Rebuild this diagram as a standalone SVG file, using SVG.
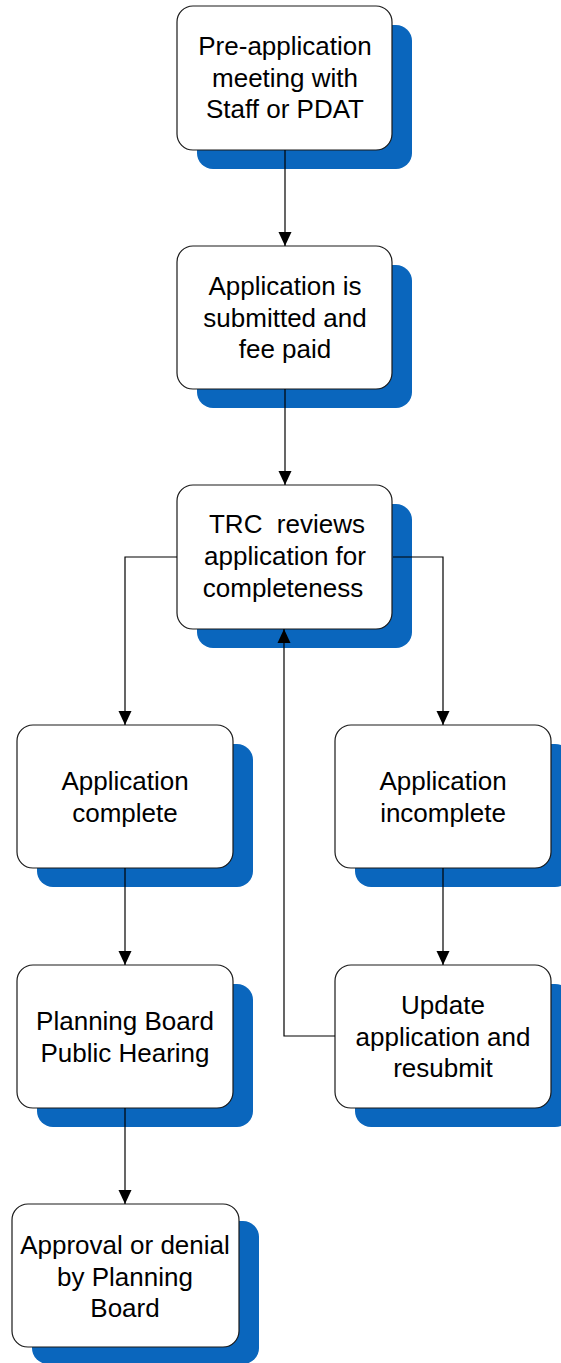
<svg xmlns="http://www.w3.org/2000/svg" width="561" height="1363" viewBox="0 0 561 1363">
<style>
.sh{fill:#0A66BD}
.bx{fill:#fff;stroke:#1a1a1a;stroke-width:1.2}
.t{font-family:"Liberation Sans",Arial,sans-serif;font-size:26px;fill:#000;text-anchor:middle}
.c{fill:none;stroke:#000;stroke-width:1.2}
</style>
<defs>
<marker id="ah" markerUnits="userSpaceOnUse" markerWidth="14" markerHeight="14" viewBox="0 0 14 14" refX="14" refY="7" orient="auto">
<path d="M0,0.5 L14,7 L0,13.5 Z" fill="#000"/>
</marker>
</defs>
<rect width="561" height="1363" fill="#fff"/>
<g id="n1">
<rect class="sh" x="197" y="25" width="215" height="144" rx="16"/>
<rect class="bx" x="177" y="6" width="215" height="144" rx="16"/>
<text class="t" x="285" y="55">Pre-application</text>
<text class="t" x="285" y="87">meeting with</text>
<text class="t" x="285" y="118">Staff or PDAT</text>
</g>
<g id="n2">
<rect class="sh" x="197" y="265" width="215" height="143" rx="16"/>
<rect class="bx" x="177" y="246" width="215" height="143" rx="16"/>
<text class="t" x="285" y="295">Application is</text>
<text class="t" x="285" y="327">submitted and</text>
<text class="t" x="285" y="358">fee paid</text>
</g>
<g id="n3">
<rect class="sh" x="197" y="504" width="215" height="144" rx="16"/>
<rect class="bx" x="177" y="485" width="215" height="144" rx="16"/>
<text class="t" x="287" y="533">TRC&#160; reviews</text>
<text class="t" x="285" y="565">application for</text>
<text class="t" x="283" y="597">completeness</text>
</g>
<g id="n4">
<rect class="sh" x="37" y="744" width="216" height="143" rx="16"/>
<rect class="bx" x="17" y="725" width="216" height="143" rx="16"/>
<text class="t" x="125" y="790">Application</text>
<text class="t" x="125" y="822">complete</text>
</g>
<g id="n5">
<rect class="sh" x="355" y="744" width="216" height="143" rx="16"/>
<rect class="bx" x="335" y="725" width="216" height="143" rx="16"/>
<text class="t" x="443" y="790">Application</text>
<text class="t" x="443" y="822">incomplete</text>
</g>
<g id="n6">
<rect class="sh" x="37" y="984" width="216" height="143" rx="16"/>
<rect class="bx" x="17" y="965" width="216" height="143" rx="16"/>
<text class="t" x="125" y="1030">Planning Board</text>
<text class="t" x="125" y="1062">Public Hearing</text>
</g>
<g id="n7">
<rect class="sh" x="355" y="984" width="216" height="143" rx="16"/>
<rect class="bx" x="335" y="965" width="216" height="143" rx="16"/>
<text class="t" x="443" y="1014">Update</text>
<text class="t" x="443" y="1046">application and</text>
<text class="t" x="443" y="1077">resubmit</text>
</g>
<g id="n8">
<rect class="sh" x="32" y="1221" width="227" height="143" rx="16"/>
<rect class="bx" x="12" y="1204" width="227" height="143" rx="16"/>
<text class="t" x="125" y="1254">Approval or denial</text>
<text class="t" x="125" y="1286">by Planning</text>
<text class="t" x="125" y="1317">Board</text>
</g>
<g id="connectors">
<path class="c" d="M285,150 V246" marker-end="url(#ah)"/>
<path class="c" d="M285,389 V485" marker-end="url(#ah)"/>
<path class="c" d="M177,557 H125 V725" marker-end="url(#ah)"/>
<path class="c" d="M393,557 H443 V725" marker-end="url(#ah)"/>
<path class="c" d="M125,868 V965" marker-end="url(#ah)"/>
<path class="c" d="M443,868 V965" marker-end="url(#ah)"/>
<path class="c" d="M125,1108 V1204" marker-end="url(#ah)"/>
<path class="c" d="M335,1036 H284 V629" marker-end="url(#ah)"/>
</g>
</svg>
